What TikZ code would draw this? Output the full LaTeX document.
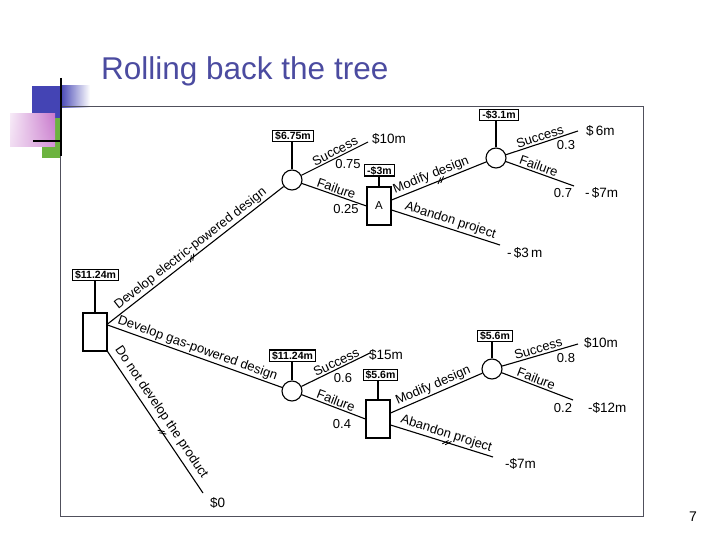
\documentclass[tikz,border=0pt]{standalone}
\usepackage{fontspec}
\setmainfont{Liberation Sans}
\usetikzlibrary{shadings}
\definecolor{titleblue}{HTML}{4B4BA0}
\definecolor{sqblue}{HTML}{4444B4}
\definecolor{sqgreen}{HTML}{6CB33F}
\definecolor{sqpink}{HTML}{C878CC}
\definecolor{framecol}{HTML}{50505C}
\begin{document}
\begin{tikzpicture}[x=1pt,y=-1pt,
  conn/.style={line width=1.1pt},
  dec/.style={draw, line width=1.1pt, minimum width=24pt, minimum height=38pt, inner sep=0pt, font=\fontsize{11.5}{12}\selectfont},
  chance/.style={draw, circle, line width=1.1pt, minimum size=20pt, inner sep=0pt},
  val/.style={draw, line width=1.1pt, font=\fontsize{10.5}{11}\bfseries\selectfont, inner xsep=2.5pt, inner ysep=1.8pt, text height=7.5pt, text depth=0pt},
  lab/.style={font=\fontsize{13}{14}\selectfont, sloped, above, inner sep=1.5pt},
  pay/.style={font=\fontsize{13.5}{14}\selectfont, anchor=west, inner sep=0pt},
  prob/.style={font=\fontsize{13}{14}\selectfont, inner sep=0pt},
  hashmark/.pic={\draw[line width=0.9pt] (-4,2.5)--(1,-2.5) (-1,2.5)--(4,-2.5);}
]
\useasboundingbox (0,0) rectangle (720,540);
% decoration
\fill[sqblue] (32,86) rectangle (60,118);
\shade[left color=sqblue, right color=white] (60,86) rectangle (90,108);
\fill[sqgreen] (42,118) rectangle (60,158);
\shade[upper left=white!85!sqpink, upper right=sqpink, lower left=white!75!sqpink, lower right=sqpink!80!white] (10,114) rectangle (55,147);
% frame
\draw[framecol, line width=1pt] (60,107) rectangle (643,516);
\draw[black, line width=2pt] (61,78) -- (61,156);
\draw[black, line width=2pt] (33,141) -- (60,141);
% title and page number
\node[anchor=base west, inner sep=0pt, text=titleblue, font=\fontsize{31.5}{34}\selectfont] (title) at (101,80) {Rolling back the tree};
\node[anchor=base, inner sep=0pt, font=\fontsize{14}{15}\selectfont] (page) at (693,521) {7};

% nodes
\node[dec] (root) at (95,332) {};
\node[val] (v0) at (95.5,275) {\$11.24m};
\node[chance] (c1) at (292,180) {};
\node[val] (v1) at (293,136) {\$6.75m};
\node[dec] (A) at (379,206) {A};
\node[val] (v2) at (379.5,170.5) {-\$3m};
\node[chance] (c2) at (496,158) {};
\node[val] (v3) at (499,115) {-\$3.1m};
\node[chance] (c3) at (292,391) {};
\node[val] (v4) at (292.5,355.5) {\$11.24m};
\node[dec] (B) at (378,419) {};
\node[val] (v5) at (380.5,375) {\$5.6m};
\node[chance] (c4) at (492,369) {};
\node[val] (v6) at (495,336) {\$5.6m};

% end points
\coordinate (e1) at (368,142);
\coordinate (e2) at (578,131);
\coordinate (e3) at (574,186);
\coordinate (e4) at (500,245);
\coordinate (e5) at (370,353);
\coordinate (e6) at (578,344);
\coordinate (e7) at (573,400);
\coordinate (e8) at (493,457);
\coordinate (e9) at (203,493);

% value box stems
\draw[conn] (root.north) -- (root.north |- v0.south);
\draw[conn] (c1.north) -- (c1.north |- v1.south);
\draw[conn] (A.north) -- (A.north |- v2.south);
\draw[conn] (c2.north) -- (c2.north |- v3.south);
\draw[conn] (c3.north) -- (c3.north |- v4.south);
\draw[conn] (B.north) -- (B.north |- v5.south);
\draw[conn] (c4.north) -- (c4.north |- v6.south);

% branches
\draw[conn] ([yshift=8pt]root.east) -- node[lab, pos=0.5] {Develop electric-powered design} pic[pos=0.48, sloped]{hashmark} (c1);
\draw[conn] ([yshift=7pt]root.east) -- node[lab, pos=0.5] {Develop gas-powered design} (c3);
\draw[conn] (root.south east) -- node[lab, pos=0.47, inner sep=4pt] {Do not develop the product} pic[pos=0.57, sloped]{hashmark} (e9);

\draw[conn] (c1) -- node[lab, pos=0.55] {Success} (e1);
\draw[conn] (c1) -- node[lab, pos=0.5] {Failure} (A.west);
\draw[conn] ([yshift=6pt]A.east) -- node[lab, pos=0.45] {Modify design} pic[pos=0.52, sloped]{hashmark} (c2);
\draw[conn] ([yshift=-4pt]A.east) -- node[lab, pos=0.52] {Abandon project} (e4);
\draw[conn] (c2) -- node[lab, pos=0.5] {Success} (e2);
\draw[conn] (c2) -- node[lab, pos=0.45] {Failure} (e3);

\draw[conn] (c3) -- node[lab, pos=0.55] {Success} (e5);
\draw[conn] (c3) -- node[lab, pos=0.5] {Failure} (B.west);
\draw[conn] ([yshift=6pt]B.east) -- node[lab, pos=0.5] {Modify design} (c4);
\draw[conn] ([yshift=-6pt]B.east) -- node[lab, pos=0.52] {Abandon project} pic[pos=0.55, sloped]{hashmark} (e8);
\draw[conn] (c4) -- node[lab, pos=0.5] {Success} (e6);
\draw[conn] (c4) -- node[lab, pos=0.45] {Failure} (e7);

% probabilities
\node[prob] (p1) at (348,164) {0.75};
\node[prob] (p2) at (346,209) {0.25};
\node[prob] (p3) at (566,145) {0.3};
\node[prob] (p4) at (563,193) {0.7};
\node[prob] (p5) at (343,378) {0.6};
\node[prob] (p6) at (342,424) {0.4};
\node[prob] (p7) at (566,358) {0.8};
\node[prob] (p8) at (563,408) {0.2};

% payoffs
\node[pay] (t1) at (372,139) {\$10m};
\node[pay] (t2) at (586,131) {\$\,6m};
\node[pay] (t3) at (585,193) {-\,\$7m};
\node[pay] (t4) at (507,253) {-\,\$3\,m};
\node[pay] (t5) at (369,355) {\$15m};
\node[pay] (t6) at (584,343) {\$10m};
\node[pay] (t7) at (588,408) {-\$12m};
\node[pay] (t8) at (505,464) {-\$7m};
\node[pay] (t9) at (210,503) {\$0};
\end{tikzpicture}
\end{document}
